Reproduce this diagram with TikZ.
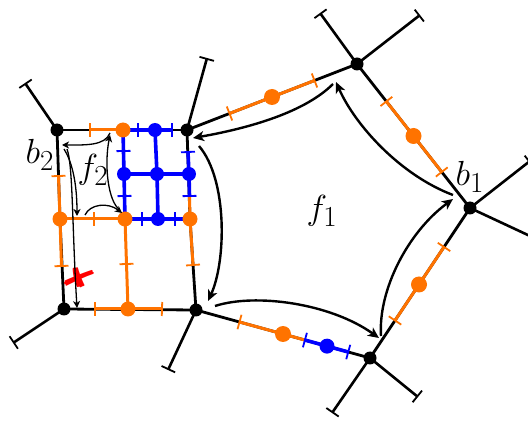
\documentclass[tikz,border=0pt]{standalone}
\usepackage{amsmath,pifont}
\usetikzlibrary{calc,arrows.meta}
\definecolor{ornge}{RGB}{255,115,0}
\begin{document}
\begin{tikzpicture}[x=1pt,y=-1pt,
  edge/.style={line width=2.8pt,black},
  oedge/.style={line width=3pt,ornge},
  bedge/.style={line width=3.6pt,blue},
  stub/.style={line width=2.6pt,-{Bar[width=15pt,line width=1.8pt]}},
  tk/.style={sloped,rectangle,inner sep=0pt,minimum width=1.8pt,minimum height=14pt,fill=#1,draw=none},
  vdot/.style={circle,fill=black,inner sep=0pt,minimum size=13pt},
  odot/.style={circle,fill=ornge,inner sep=0pt,minimum size=15pt},
  bdot/.style={circle,fill=blue,inner sep=0pt,minimum size=14pt},
  arr/.style={line width=2.4pt,-{Stealth[length=11pt,width=10pt,inset=3pt]}},
  sarr/.style={line width=1.3pt,-{Stealth[length=7pt,width=7pt,inset=2pt]}},
  lab/.style={font=\Huge,transform shape,scale=1.4,inner sep=0pt}]
\useasboundingbox (0,0) rectangle (528,422);
\newcommand{\tck}[3]{\path (#2) -- (#3) node[tk=#1,pos=0]{};}
% vertices
\coordinate (A) at (57,130);
\coordinate (B) at (187,130);
\coordinate (C) at (64,309);
\coordinate (D) at (196,310);
\coordinate (E) at (357,64);
\coordinate (F) at (470,208);
\coordinate (G) at (370,358);
% grid points
\coordinate (O1) at (123,130);
\coordinate (U1) at (155,130);
\coordinate (U2) at (124,174);
\coordinate (U3) at (157,174);
\coordinate (U4) at (189,174);
\coordinate (O2) at (60,219);
\coordinate (O3) at (125,219);
\coordinate (U5) at (158,219);
\coordinate (O4) at (190,219);
\coordinate (O5) at (128,309);
% tick points
\coordinate (tA1) at (90,130);
\coordinate (tA2) at (138,130);
\coordinate (tA3) at (172,130);
\coordinate (tL1) at (58.5,176);
\coordinate (tL2) at (61.5,266);
\coordinate (tM1) at (123.5,151);
\coordinate (tM2) at (124.5,196);
\coordinate (tM3) at (126.5,264);
\coordinate (tR1) at (188,152);
\coordinate (tR2) at (189.5,196);
\coordinate (tR3) at (193,265);
\coordinate (tH1) at (94,219);
\coordinate (tH2) at (142,219);
\coordinate (tH3) at (175,219);
\coordinate (tB1) at (95,309);
\coordinate (tB2) at (162,309);
% stub ends
\coordinate (sA) at (25,83);
\coordinate (sB) at (207,58);
\coordinate (sC) at (13,343);
\coordinate (sD) at (168,370);
\coordinate (sE1) at (320,13);
\coordinate (sE2) at (420,15);
\coordinate (sF1) at (530,161);
\coordinate (sF2) at (545,243);
\coordinate (sG1) at (332,413);
\coordinate (sG2) at (418,397);
% stubs
\foreach \v/\s in {A/sA,B/sB,C/sC,D/sD,E/sE1,E/sE2,F/sF1,F/sF2,G/sG1,G/sG2}
  \draw[stub] (\v) -- (\s);
% black edges
\draw[edge] (A) -- (B);
\draw[edge] (A) -- (O2) -- (C);
\draw[edge] (B) -- (O4) -- (D);
\draw[edge] (C) -- (D);
\draw[edge] (B) -- (E);
\draw[edge] (E) -- (F);
\draw[edge] (F) -- (G);
\draw[edge] (D) -- (G);
% coloured overlays in the square
\draw[oedge] (tA1) -- (O1);
\draw[bedge] (O1) -- (tA3);
\draw[oedge] (tL1) -- (O2) -- (tL2);
\draw[bedge] (O1) -- (U2) -- (O3);
\draw[oedge] (O3) -- (O5);
\draw[bedge] (U1) -- (U3) -- (U5);
\draw[bedge] (tR1) -- (U4) -- (tR2);
\draw[oedge] (tR2) -- (O4) -- (tR3);
\draw[bedge] (U2) -- (U3) -- (U4);
\draw[oedge] (O2) -- (O3);
\draw[bedge] (O3) -- (U5) -- (O4);
\draw[oedge] (tB1) -- (O5) -- (tB2);
% coloured overlays on outer edges
\draw[oedge] ($(B)!0.25!(E)$) -- ($(B)!0.75!(E)$);
\draw[oedge] ($(E)!0.26!(F)$) -- ($(E)!0.75!(F)$);
\draw[oedge] ($(F)!0.26!(G)$) -- ($(F)!0.75!(G)$);
\draw[oedge] ($(D)!0.25!(G)$) -- ($(D)!0.626!(G)$);
\draw[bedge] ($(D)!0.626!(G)$) -- ($(D)!0.875!(G)$);
% ticks in the square
\tck{ornge}{tA1}{B}
\tck{blue}{tA2}{B}
\tck{blue}{tA3}{B}
\tck{ornge}{tL1}{O2}
\tck{ornge}{tL2}{O2}
\tck{blue}{tM1}{U2}
\tck{blue}{tM2}{U2}
\tck{ornge}{tM3}{O5}
\tck{blue}{tR1}{U4}
\tck{blue}{tR2}{U4}
\tck{ornge}{tR3}{D}
\tck{ornge}{tH1}{O3}
\tck{blue}{tH2}{O4}
\tck{blue}{tH3}{O4}
\tck{ornge}{tB1}{O5}
\tck{ornge}{tB2}{D}
% ticks on outer edges
\path (B) -- (E) node[tk=ornge,pos=0.25,minimum height=15pt]{} node[tk=ornge,pos=0.75,minimum height=15pt]{};
\path (E) -- (F) node[tk=ornge,pos=0.26,minimum height=15pt]{} node[tk=ornge,pos=0.75,minimum height=15pt]{};
\path (F) -- (G) node[tk=ornge,pos=0.26,minimum height=15pt]{} node[tk=ornge,pos=0.75,minimum height=15pt]{};
\path (D) -- (G) node[tk=ornge,pos=0.25,minimum height=15pt]{} node[tk=blue,pos=0.626,minimum height=15pt]{} node[tk=blue,pos=0.875,minimum height=15pt]{};
% dots
\foreach \p in {A,B,C,D,E,F,G} \node[vdot] (n\p) at (\p) {};
\foreach \p in {O1,O2,O3,O4,O5} \node[odot] (n\p) at (\p) {};
\foreach \p in {U1,U2,U3,U4,U5} \node[bdot] (n\p) at (\p) {};
\node[odot,minimum size=16pt] (oBE) at ($(B)!0.5!(E)$) {};
\node[odot,minimum size=16pt] (oEF) at ($(E)!0.5!(F)$) {};
\node[odot,minimum size=16pt] (oFG) at ($(F)!0.51!(G)$) {};
\node[odot,minimum size=16pt] (oDG) at ($(D)!0.5!(G)$) {};
\node[bdot,minimum size=15pt] (uDG) at ($(D)!0.753!(G)$) {};
% red cross (behind the arrows)
\node[text=red,font=\Huge,inner sep=0pt,transform shape,xscale=1.6,yscale=1.2,rotate=-20] (X) at (79,278) {\ding{56}};
% arrow anchors
\coordinate (a1s) at (333,84);  \coordinate (a1e) at (193,138);
\coordinate (a2s) at (453,195); \coordinate (a2e) at (336,82);
\coordinate (a3s) at (199,146); \coordinate (a3e) at (208,301);
\coordinate (a4s) at (215,306); \coordinate (a4e) at (379,338);
\coordinate (a5s) at (381,336); \coordinate (a5e) at (453,199);
\draw[arr] (a1s) .. controls (305,112) and (250,128) .. (a1e);
\draw[arr] (a2s) .. controls (400,175) and (355,125) .. (a2e);
\draw[arr] (a3s) .. controls (228,180) and (226,262) .. (a3e);
\draw[arr] (a4s) .. controls (255,293) and (330,303) .. (a4e);
\draw[arr] (a5s) .. controls (378,290) and (408,232) .. (a5e);
% f2 arrows
\coordinate (b1s) at (110,133); \coordinate (b1e) at (62,145);
\coordinate (b2s) at (64,149);  \coordinate (b2e) at (77,216);
\coordinate (b3s) at (67,149);  \coordinate (b3e) at (77,308);
\coordinate (b4s) at (85,215);  \coordinate (b4e) at (122,213);
\coordinate (b5s) at (120,210); \coordinate (b5e) at (110,135);
\draw[sarr] (b1s) .. controls (105,146) and (85,145) .. (b1e);
\draw[sarr] (b2s) .. controls (71,160) and (77,180) .. (b2e);
\draw[sarr] (b3s) .. controls (73,165) and (72,225) .. (b3e);
\draw[sarr] (b4s) .. controls (90,204) and (108,202) .. (b4e);
\draw[sarr] (b5s) .. controls (108,202) and (104,165) .. (b5e);
% labels
\node[lab] (lb2) at (40,155) {$b_2$};
\node[lab] (lf2) at (93,170) {$f_2$};
\node[lab] (lf1) at (322,211) {$f_1$};
\node[lab] (lb1) at (470,177) {$b_1$};
\end{tikzpicture}
\end{document}
